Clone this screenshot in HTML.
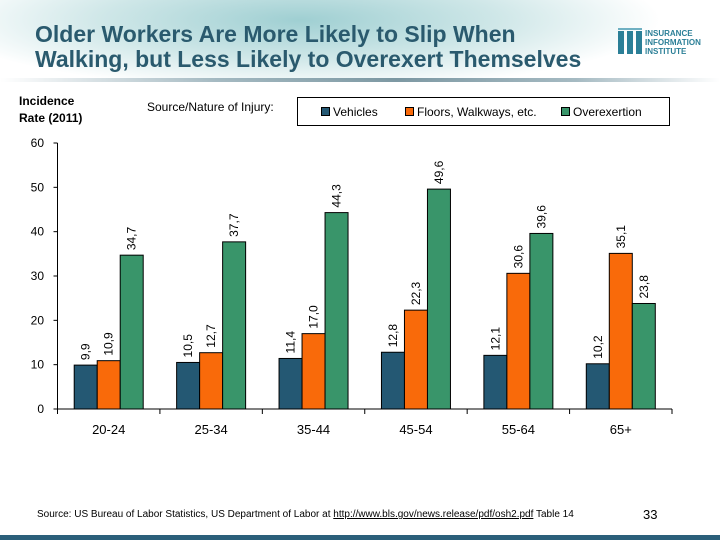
<!DOCTYPE html>
<html><head><meta charset="utf-8"><style>
body{margin:0;width:720px;height:540px;overflow:hidden;background:#fff;font-family:"Liberation Sans",sans-serif;position:relative}
.hdr{position:absolute;left:0;top:0;width:720px;height:80px;background:radial-gradient(ellipse 360px 70px at 300px 20px,#9fcfd2 0%,#cfe7e8 55%,#fff 100%)}
.hdr-line{position:absolute;left:0;top:78px;width:720px;height:4px;background:linear-gradient(90deg,#fff 0%,#8fa9b3 30%,#5d7f8c 55%,#8fa9b3 80%,#fff 100%);opacity:.8}
.title{position:absolute;left:35px;top:22px;font-size:23px;font-weight:bold;color:#2a5a6e;line-height:25px}
</style></head><body>
<div class="hdr"></div>
<div class="hdr-line"></div>
<div class="title">Older Workers Are More Likely to Slip When<br>Walking, but Less Likely to Overexert Themselves</div>
<div style="position:absolute;left:618px;top:28px;width:24px;height:26px">
<div style="position:absolute;left:0;top:3px;width:6px;height:23px;background:#2b7f97"></div>
<div style="position:absolute;left:9px;top:3px;width:6px;height:23px;background:#2b7f97"></div>
<div style="position:absolute;left:18px;top:3px;width:6px;height:23px;background:#2b7f97"></div>
<div style="position:absolute;left:0;top:0;width:24px;height:2px;background:#6fb0c2"></div></div>
<div style="position:absolute;left:645px;top:29px;font-size:8px;font-weight:bold;color:#2b7f97;line-height:9px">INSURANCE<br>INFORMATION<br>INSTITUTE</div>
<div style="position:absolute;left:19px;top:93px;font-size:12px;font-weight:bold;line-height:17px">Incidence<br>Rate (2011)</div>
<div style="position:absolute;left:147px;top:100px;font-size:12px">Source/Nature of Injury:</div>
<div style="position:absolute;left:297px;top:97px;width:371px;height:27px;border:1px solid #000;font-size:12px">
<span style="position:absolute;left:23px;top:7px"><i style="display:inline-block;width:7px;height:7px;background:#245873;border:1px solid #000;margin-right:3px"></i>Vehicles</span>
<span style="position:absolute;left:107px;top:7px"><i style="display:inline-block;width:7px;height:7px;background:#f96a0a;border:1px solid #000;margin-right:3px"></i>Floors, Walkways, etc.</span>
<span style="position:absolute;left:263px;top:7px"><i style="display:inline-block;width:7px;height:7px;background:#39956a;border:1px solid #000;margin-right:3px"></i>Overexertion</span>
</div>
<svg id="chart" width="720" height="540" style="position:absolute;left:0;top:0"></svg>
<div style="position:absolute;left:37px;top:509px;font-size:10px">Source: US Bureau of Labor Statistics, US Department of Labor at <u style="color:#000">http://www.bls.gov/news.release/pdf/osh2.pdf</u> Table 14</div>
<div style="position:absolute;left:643px;top:507px;font-size:13px">33</div>
<div style="position:absolute;left:0;top:535px;width:720px;height:5px;background:#2b5f7a"></div>
<script>
const categories=["20-24","25-34","35-44","45-54","55-64","65+"];
const vehicles=[9.9,10.5,11.4,12.8,12.1,10.2];
const floors=[10.9,12.7,17.0,22.3,30.6,35.1];
const overexertion=[34.7,37.7,44.3,49.6,39.6,23.8];
const yTicks=[0,10,20,30,40,50,60];
const svg=document.getElementById('chart');
const NS='http://www.w3.org/2000/svg';
const x0=57.5,x1=672,yb=409,yt=143,ymax=60;
const band=(x1-x0)/categories.length;
const y=v=>yb-(v/ymax)*(yb-yt);
function mk(t,a){const e=document.createElementNS(NS,t);for(const k in a)e.setAttribute(k,a[k]);svg.appendChild(e);return e;}
let e=mk('line',{x1:x0,y1:yt,x2:x0,y2:yb,stroke:'#000'});


e=mk('line',{x1:x0,y1:yb,x2:x1,y2:yb,stroke:'#000'});


yTicks.forEach(t=>{
 mk('line',{x1:x0-4,y1:y(t),x2:x0,y2:y(t),stroke:'#000'});
 const tx=mk('text',{x:44,y:y(t)+4,'text-anchor':'end','font-size':12,'font-family':'Liberation Sans'});
 tx.textContent=t;
 
 
});
const series=[[vehicles,'#245873','vehicles'],[floors,'#f96a0a','floors'],[overexertion,'#39956a','overexertion']];
const bw=23;
categories.forEach((c,i)=>{
 const bx=x0+i*band;
 mk('line',{x1:bx,y1:yb,x2:bx,y2:yb+5,stroke:'#000'});
 const lt=mk('text',{x:bx+band/2,y:yb+25,'text-anchor':'middle','font-size':13,'font-family':'Liberation Sans'});
 lt.textContent=c;
 
 
 series.forEach((s,j)=>{
  const v=s[0][i];const xx=bx+(band-3*bw)/2+j*bw;
  const r=mk('rect',{x:xx,y:y(v),width:bw,height:yb-y(v),fill:s[1],stroke:'#000','stroke-width':1});
  
  
  const tx=mk('text',{x:0,y:0,'font-size':12,'font-family':'Liberation Sans',transform:`translate(${xx+bw/2+4},${y(v)-5}) rotate(-90)`});
  tx.textContent=v.toFixed(1).replace('.',',');
  
  
 });
});
mk('line',{x1:x1,y1:yb,x2:x1,y2:yb+5,stroke:'#000'});
</script>
</body></html>
